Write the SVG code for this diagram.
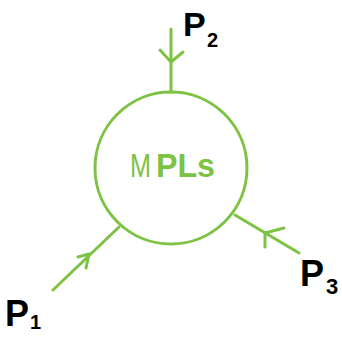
<svg xmlns="http://www.w3.org/2000/svg" width="342" height="337" viewBox="0 0 342 337">
<style>
.g{stroke:#7dc242;stroke-width:3;fill:none;stroke-linecap:round;stroke-linejoin:round}
.lbl{font-family:"Liberation Sans",Arial,sans-serif;font-weight:bold;fill:#000}
.mp{font-family:"Liberation Sans",Arial,sans-serif;font-size:34px;fill:#7dc242}
</style>
<rect width="342" height="337" fill="#fff"/>
<g id="mpls">
<circle class="g" cx="171" cy="168" r="76"/>
<text class="mp" x="130" y="177" textLength="21" lengthAdjust="spacingAndGlyphs">M</text>
<text class="mp" x="156" y="177" font-weight="bold" textLength="59" lengthAdjust="spacingAndGlyphs">PLs</text>
</g>
<g id="connectors">
<line class="g" x1="171" y1="29" x2="171" y2="92"/>
<polyline class="g" points="160,50 171,62 183,52"/>
<line class="g" x1="53" y1="290" x2="119" y2="227"/>
<polyline class="g" points="78,257 89,254 86,268"/>
<line class="g" x1="235" y1="215" x2="299" y2="253"/>
<polyline class="g" points="284,228 265,233 265,247"/>
</g>
<g id="p2"><text class="lbl" x="183" y="36" font-size="34">P</text><text class="lbl" x="207" y="47" font-size="20">2</text></g>
<g id="p1"><text class="lbl" x="5" y="326" font-size="36">P</text><text class="lbl" x="30" y="329" font-size="20">1</text></g>
<g id="p3"><text class="lbl" x="300" y="286" font-size="36">P</text><text class="lbl" x="326" y="294" font-size="22">3</text></g>
</svg>
